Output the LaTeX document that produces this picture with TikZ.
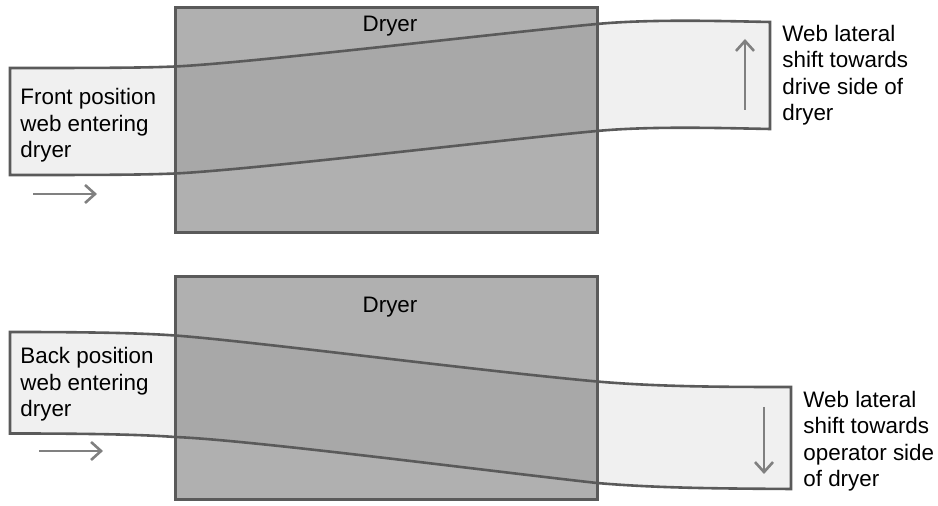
\documentclass[tikz,border=0pt]{standalone}
\usepackage{fontspec}
\setmainfont{Liberation Sans}
\usepackage{xcolor}
\usetikzlibrary{arrows.meta}

\definecolor{dryergray}{HTML}{B0B0B0}
\definecolor{overlapgray}{HTML}{A8A8A8}
\definecolor{webgray}{HTML}{F0F0F0}
\definecolor{edgegray}{HTML}{5A5A5A}
\definecolor{arrowgray}{HTML}{808080}

% web bands (pixel units, y downwards)
\newcommand{\frontweb}{(10,68) .. controls (90,68) and (140,68) .. (175,66.5)
  .. controls (250,63) and (500,33) .. (597,24)
  .. controls (650,19) and (720,21) .. (770,22) -- (770,129)
  .. controls (720,128) and (650,126) .. (597,131)
  .. controls (500,140) and (250,170) .. (175,173.5)
  .. controls (140,175) and (90,175) .. (10,175) -- cycle}
\newcommand{\backweb}{(10,332) .. controls (90,332) and (140,333) .. (175,335.5)
  .. controls (250,341) and (480,371) .. (597,381.5)
  .. controls (660,387) and (730,387) .. (791,387) -- (791,489)
  .. controls (730,488.5) and (660,488.5) .. (597,483)
  .. controls (480,470) and (250,440) .. (175,437)
  .. controls (140,434.5) and (90,433.5) .. (10,433.5) -- cycle}

\begin{document}
\begin{tikzpicture}[
  x=0.5pt, y=-0.5pt,
  dryerbox/.style={fill=dryergray, draw=edgegray, line width=1.5pt},
  webedge/.style={draw=edgegray, line width=1.3pt},
  label/.style={inner sep=0pt, align=left, font=\fontsize{11.2}{13.3}\selectfont},
  movearrow/.style={-{Straight Barb[length=5pt,width=9pt]}, draw=arrowgray, line width=1.3pt},
]
  \useasboundingbox (0,0) rectangle (938,506);

  % front position (top)
  \fill[webgray] \frontweb;
  \draw[dryerbox] (175,8) rectangle (597,233);
  \begin{scope}
    \clip (175,8) rectangle (597,233);
    \fill[overlapgray] \frontweb;
  \end{scope}
  \draw[webedge] \frontweb;
  \draw[draw=edgegray, line width=1.5pt] (175,8) rectangle (597,233);

  \node[label, anchor=base] (dryer1) at (390,32) {Dryer};
  \node[label, anchor=base west] (frontlbl) at (20,158) {Front position\\web entering\\dryer};
  \node[label, anchor=base west] (driveshift) at (782,121) {Web lateral\\shift towards\\drive side of\\dryer};

  \coordinate (feed1a) at (33,194);
  \coordinate (feed1b) at (97,194);
  \coordinate (lat1a) at (745,110);
  \coordinate (lat1b) at (745,39);
  \draw[movearrow] (feed1a) -- (feed1b);
  \draw[movearrow] (lat1a) -- (lat1b);

  % back position (bottom)
  \fill[webgray] \backweb;
  \draw[dryerbox] (175,277) rectangle (597,500);
  \begin{scope}
    \clip (175,277) rectangle (597,500);
    \fill[overlapgray] \backweb;
  \end{scope}
  \draw[webedge] \backweb;
  \draw[draw=edgegray, line width=1.5pt] (175,277) rectangle (597,500);

  \node[label, anchor=base] (dryer2) at (390,313) {Dryer};
  \node[label, anchor=base west] (backlbl) at (20,417) {Back position\\web entering\\dryer};
  \node[label, anchor=base west] (operatorshift) at (803,487) {Web lateral\\shift towards\\operator side\\of dryer};

  \coordinate (feed2a) at (39,451);
  \coordinate (feed2b) at (103,451);
  \coordinate (lat2a) at (764,407);
  \coordinate (lat2b) at (764,474);
  \draw[movearrow] (feed2a) -- (feed2b);
  \draw[movearrow] (lat2a) -- (lat2b);
\end{tikzpicture}
\end{document}
